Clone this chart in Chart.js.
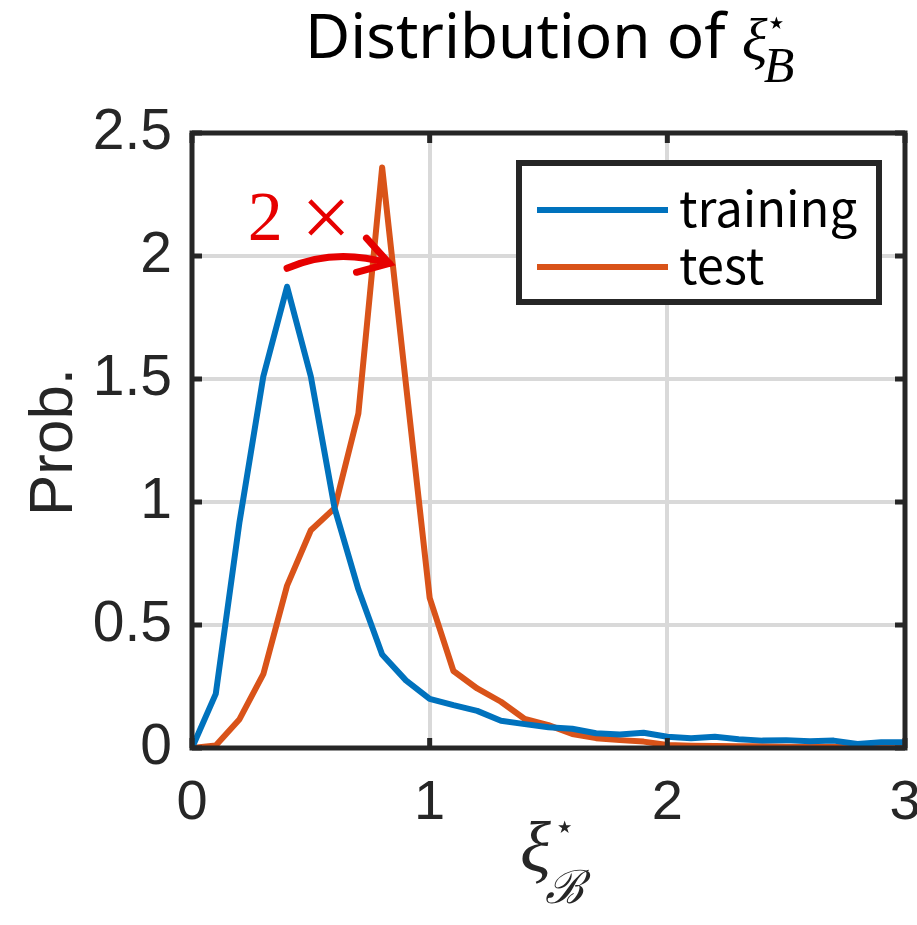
<!DOCTYPE html>
<html>
<head>
<meta charset="utf-8">
<script src="https://cdn.jsdelivr.net/npm/chart.js@4/dist/chart.umd.min.js"></script>
<style>
  body { margin: 0; background: #fff; }
</style>
</head>
<body>
<canvas id="chart" width="917" height="925"></canvas>
<script>
// bin centres and the two estimated densities
var xs = [0, 0.1, 0.2, 0.3, 0.4, 0.5, 0.6, 0.7, 0.8, 0.9, 1.0,
          1.1, 1.2, 1.3, 1.4, 1.5, 1.6, 1.7, 1.8, 1.9, 2.0,
          2.1, 2.2, 2.3, 2.4, 2.5, 2.6, 2.7, 2.8, 2.9, 3.0];
var training = [0, 0.22, 0.92, 1.51, 1.875, 1.51, 0.975, 0.645, 0.38, 0.275, 0.2,
                0.174, 0.151, 0.111, 0.097, 0.084, 0.078, 0.06, 0.055, 0.062, 0.046,
                0.04, 0.046, 0.036, 0.03, 0.032, 0.027, 0.03, 0.016, 0.023, 0.023];
var test = [0, 0.01, 0.117, 0.3, 0.66, 0.885, 0.975, 1.36, 2.36, 1.48, 0.61,
            0.313, 0.242, 0.188, 0.118, 0.093, 0.057, 0.04, 0.032, 0.026, 0.012,
            0.009, 0.008, 0.007, 0.007, 0.005, 0.005, 0.005, 0.003, 0.003, 0.003];

var xTicks = [0, 1, 2, 3];
var yTicks = [0, 0.5, 1, 1.5, 2, 2.5];
var seriesNames = ['training', 'test'];
var seriesColors = ['#0072BD', '#D95319'];

var axisColor = '#262626';

function toPoints(vals) {
  var pts = [];
  for (var i = 0; i < xs.length; i++) {
    pts.push({ x: xs[i], y: vals[i] });
  }
  return pts;
}

// axes box, inner ticks, legend and the "2 x" note
var framePlugin = {
  id: 'frame',
  afterDatasetsDraw: function (chart) {
    var ctx = chart.ctx;
    var a = chart.chartArea;
    var sx = chart.scales.x, sy = chart.scales.y;
    ctx.save();

    // inner tick marks
    ctx.strokeStyle = axisColor;
    ctx.lineWidth = 5;
    ctx.beginPath();
    xTicks.forEach(function (v) {
      var px = sx.getPixelForValue(v);
      ctx.moveTo(px, a.bottom); ctx.lineTo(px, a.bottom - 10);
      ctx.moveTo(px, a.top); ctx.lineTo(px, a.top + 10);
    });
    yTicks.forEach(function (v) {
      var py = sy.getPixelForValue(v);
      ctx.moveTo(a.left, py); ctx.lineTo(a.left + 10, py);
      ctx.moveTo(a.right, py); ctx.lineTo(a.right - 10, py);
    });
    ctx.stroke();
    ctx.strokeRect(a.left, a.top, a.right - a.left, a.bottom - a.top);

    // legend
    var lx = a.right - 386, ly = a.top + 30, lw = 360, lh = 139;
    ctx.fillStyle = '#fff';
    ctx.fillRect(lx, ly, lw, lh);
    ctx.lineWidth = 6;
    ctx.strokeStyle = axisColor;
    ctx.strokeRect(lx, ly, lw, lh);
    ctx.font = '49px "Noto Sans CJK JP"';
    ctx.textAlign = 'left';
    ctx.textBaseline = 'alphabetic';
    chart.data.datasets.forEach(function (ds, i) {
      var yy = ly + 47 + i * 57;
      ctx.strokeStyle = ds.borderColor;
      ctx.lineWidth = 6;
      ctx.beginPath();
      ctx.moveTo(lx + 18, yy);
      ctx.lineTo(lx + 149, yy);
      ctx.stroke();
      ctx.fillStyle = '#000';
      ctx.fillText(ds.label, lx + 160, yy + 17);
    });

    // annotation
    ctx.fillStyle = '#e60000';
    ctx.font = '70px "Liberation Serif"';
    ctx.fillText('2', sx.getPixelForValue(0.235), sy.getPixelForValue(2.065));
    ctx.font = '88px "Liberation Serif"';
    ctx.fillText('\u00d7', sx.getPixelForValue(0.46), sy.getPixelForValue(2.035));

    var p0 = { x: sx.getPixelForValue(0.40), y: sy.getPixelForValue(1.95) };
    var pc = { x: sx.getPixelForValue(0.60), y: sy.getPixelForValue(2.035) };
    var p1 = { x: sx.getPixelForValue(0.83), y: sy.getPixelForValue(1.97) };
    ctx.strokeStyle = '#e60000';
    ctx.lineWidth = 7;
    ctx.lineCap = 'round';
    ctx.beginPath();
    ctx.moveTo(p0.x, p0.y);
    ctx.quadraticCurveTo(pc.x, pc.y, p1.x, p1.y);
    ctx.stroke();
    var ang = Math.atan2(p1.y - pc.y, p1.x - pc.x);
    ctx.beginPath();
    ctx.moveTo(p1.x - 34 * Math.cos(ang - 0.55), p1.y - 34 * Math.sin(ang - 0.55));
    ctx.lineTo(p1.x, p1.y);
    ctx.lineTo(p1.x - 34 * Math.cos(ang + 0.55), p1.y - 34 * Math.sin(ang + 0.55));
    ctx.stroke();

    ctx.restore();
  },
  afterDraw: function (chart) {
    var ctx = chart.ctx;
    ctx.save();
    ctx.fillStyle = '#000';
    ctx.textBaseline = 'alphabetic';
    ctx.textAlign = 'left';

    // title
    ctx.font = '62px "Noto Sans"';
    var t = 'Distribution of ';
    ctx.fillText(t, 305, 58);
    var tx = 305 + ctx.measureText(t).width;
    ctx.font = 'italic 60px "Liberation Serif"';
    ctx.fillText('\u03be', tx, 60);
    ctx.font = '34px "DejaVu Sans"';
    ctx.fillText('\u22c6', tx + 24, 34);
    ctx.font = 'italic 50px "Liberation Serif"';
    ctx.fillText('B', tx + 22, 82);

    // x-axis label
    ctx.fillStyle = axisColor;
    ctx.font = 'italic 72px "Liberation Serif"';
    ctx.fillText('\u03be', 520, 872);
    ctx.font = '34px "DejaVu Sans"';
    ctx.fillText('\u22c6', 554, 838);
    ctx.font = 'italic 46px "DejaVu Serif"';
    ctx.fillText('\u212c', 545, 903);

    // y-axis label
    ctx.translate(72, 442);
    ctx.rotate(-Math.PI / 2);
    ctx.textAlign = 'center';
    ctx.font = '62px "Liberation Sans"';
    ctx.fillText('Prob.', 0, 0);
    ctx.restore();
  }
};

var ctx = document.getElementById('chart');
var chart = new Chart(ctx, {
  type: 'line',
  data: {
    datasets: [{
      label: seriesNames[0],
      data: toPoints(training),
      borderColor: seriesColors[0],
      borderWidth: 6,
      borderJoinStyle: 'round',
      pointRadius: 0,
      tension: 0
    }, {
      label: seriesNames[1],
      data: toPoints(test),
      borderColor: seriesColors[1],
      borderWidth: 6,
      borderJoinStyle: 'round',
      pointRadius: 0,
      tension: 0
    }]
  },
  options: {
    responsive: false,
    animation: false,
    layout: {
      padding: { left: 0, right: 12, top: 133, bottom: 0 }
    },
    plugins: {
      legend: { display: false },
      tooltip: { enabled: false }
    },
    scales: {
      x: {
        type: 'linear',
        min: 0,
        max: 3,
        afterBuildTicks: function (scale) {
          scale.ticks = xTicks.map(function (v) { return { value: v }; });
        },
        afterFit: function (scale) {
          scale.height = 177;
          scale.paddingLeft = 0;
          scale.paddingRight = 0;
        },
        ticks: {
          color: axisColor,
          padding: 22,
          maxRotation: 0,
          font: { family: 'Liberation Sans', size: 56 },
          callback: function (v) { return String(v); }
        },
        grid: { color: '#d9d9d9', lineWidth: 4, drawTicks: false },
        border: { display: false }
      },
      y: {
        min: 0,
        max: 2.5,
        afterBuildTicks: function (scale) {
          scale.ticks = yTicks.map(function (v) { return { value: v }; });
        },
        afterFit: function (scale) {
          scale.width = 192;
          scale.paddingTop = 0;
          scale.paddingBottom = 0;
        },
        ticks: {
          color: axisColor,
          padding: 20,
          font: { family: 'Liberation Sans', size: 57 },
          callback: function (v) { return String(v); }
        },
        grid: { color: '#d9d9d9', lineWidth: 4, drawTicks: false },
        border: { display: false }
      }
    }
  },
  plugins: [framePlugin]
});
</script>
</body>
</html>
